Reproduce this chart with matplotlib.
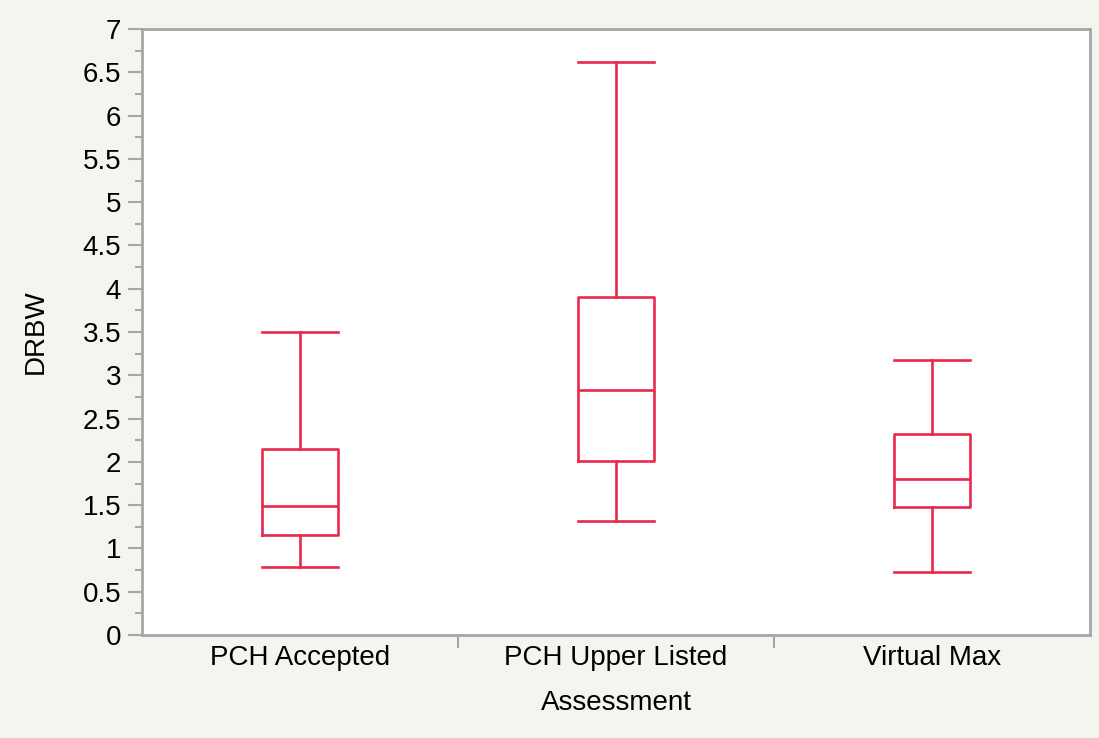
import matplotlib
matplotlib.use("Agg")
import matplotlib.pyplot as plt
from matplotlib.ticker import MultipleLocator, FixedLocator, NullFormatter

plt.rcParams['font.family'] = ['Liberation Sans', 'DejaVu Sans']

categories = ["PCH Accepted", "PCH Upper Listed", "Virtual Max"]
whisker_low = [0.79, 1.32, 0.73]
q1 = [1.16, 2.01, 1.48]
median = [1.49, 2.83, 1.80]
q3 = [2.15, 3.90, 2.32]
whisker_high = [3.50, 6.62, 3.18]

box_color = "#e8294b"
axis_gray = "#a6a6a6"
font_size = 20

fig = plt.figure(figsize=(10.99, 7.38), dpi=100, facecolor="#f5f5f0")
ax_top = 29 / 738
ax_bottom = 635 / 738
ax = fig.add_axes([142 / 1099, 1 - ax_bottom, (1090 - 142) / 1099, ax_bottom - ax_top])
ax.set_facecolor("white")

stats = []
for i, name in enumerate(categories):
    stats.append(dict(label=name, whislo=whisker_low[i], q1=q1[i], med=median[i],
                      q3=q3[i], whishi=whisker_high[i], fliers=[]))

line = dict(color=box_color, linewidth=1.9)
ax.bxp(stats, positions=range(len(categories)), widths=0.24, showfliers=False,
       boxprops=line, whiskerprops=line, capprops=line, medianprops=line,
       capwidths=0.24)

ax.set_xlim(-0.5, len(categories) - 0.5)
ax.set_ylim(0, 7)

# y axis: major every 0.5, minor every 0.25
ax.yaxis.set_major_locator(MultipleLocator(0.5))
ax.yaxis.set_minor_locator(MultipleLocator(0.25))
ax.set_yticklabels([f"{v:g}" for v in ax.get_yticks()])
ax.tick_params(axis="y", which="major", length=10, width=1.5, color=axis_gray,
               labelsize=font_size, pad=5)
ax.tick_params(axis="y", which="minor", length=5, width=1.5, color=axis_gray)

# x axis: category labels centred, separator ticks between groups
ax.xaxis.set_major_locator(FixedLocator(range(len(categories))))
ax.set_xticklabels(categories)
ax.xaxis.set_minor_locator(FixedLocator([i + 0.5 for i in range(len(categories) - 1)]))
ax.xaxis.set_minor_formatter(NullFormatter())
ax.tick_params(axis="x", which="major", length=0, labelsize=font_size, pad=7)
ax.tick_params(axis="x", which="minor", length=9, width=1.5, color=axis_gray)

for s in ax.spines.values():
    s.set_color(axis_gray)
    s.set_linewidth(2)

ax.set_ylabel("DRBW", fontsize=font_size)
ax.set_xlabel("Assessment", fontsize=font_size)
ax.yaxis.set_label_coords(36 / 1099, 1 - (ax_top + ax_bottom) / 2, transform=fig.transFigure)
ax.xaxis.set_label_coords(616 / 1099, 1 - 703 / 738, transform=fig.transFigure)
ax.xaxis.label.set_va("center")
ax.yaxis.label.set_va("center")

fig.savefig("out.png", dpi=100, facecolor=fig.get_facecolor())
